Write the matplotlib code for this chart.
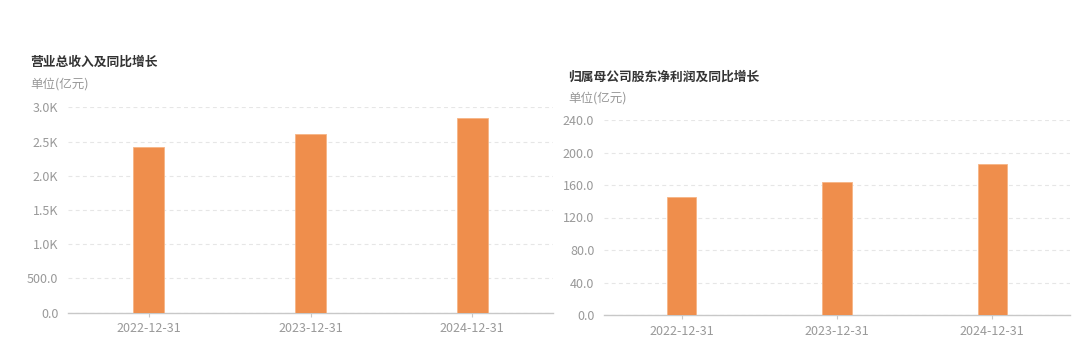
import matplotlib
matplotlib.use("Agg")
import matplotlib.pyplot as plt
from matplotlib.ticker import FuncFormatter

plt.rcParams['font.family'] = ['Noto Sans CJK SC', 'DejaVu Sans']

dates = ["2022-12-31", "2023-12-31", "2024-12-31"]
revenue = [2424, 2605, 2848]        # 营业总收入 (亿元)
net_profit = [145.6, 164.1, 185.8]  # 归母净利润 (亿元)

rev_ticks = [0, 500, 1000, 1500, 2000, 2500, 3000]
np_ticks = [0, 40, 80, 120, 160, 200, 240]

bar_color = "#EF8E4C"
grey_txt = "#999999"

def k_fmt(v, pos):
    if v >= 1000:
        return "%.1fK" % (v / 1000)
    return "%.1f" % v

fig = plt.figure(figsize=(10.8, 3.54), dpi=100)

def draw(ax, vals, ticks, fmt):
    x = range(len(dates))
    ax.bar(x, vals, width=0.19, color=bar_color, edgecolor="#F6B585", linewidth=0.6, zorder=3)
    ax.set_xlim(-0.5, len(dates) - 0.5)
    ax.set_ylim(ticks[0], ticks[-1])
    ax.set_yticks(ticks)
    ax.yaxis.set_major_formatter(FuncFormatter(fmt))
    ax.set_xticks(list(x))
    ax.set_xticklabels(dates)
    ax.grid(axis="y", color="#e6e6e6", linestyle=(0, (3.5, 3)), linewidth=0.8, zorder=0)
    for s in ["top", "right", "left"]:
        ax.spines[s].set_visible(False)
    ax.spines["bottom"].set_color("#c8c8c8")
    ax.spines["bottom"].set_linewidth(1.0)
    ax.tick_params(axis="y", length=0, pad=7, labelsize=9, labelcolor=grey_txt)
    ax.tick_params(axis="x", length=3, color="#c8c8c8", pad=4, labelsize=9, labelcolor=grey_txt)

ax1 = fig.add_axes([68 / 1080, 1 - 312.5 / 354, 485 / 1080, 205.2 / 354])
draw(ax1, revenue, rev_ticks, k_fmt)

ax2 = fig.add_axes([604 / 1080, 1 - 315 / 354, 466 / 1080, 195 / 354])
draw(ax2, net_profit, np_ticks, lambda v, p: "%.1f" % v)

fig.text(30 / 1080, 1 - 62 / 354, "营业总收入及同比增长", fontsize=9.2, fontweight="bold",
         color="#333333", va="center", ha="left")
fig.text(30 / 1080, 1 - 84 / 354, "单位(亿元)", fontsize=9, color=grey_txt, va="center", ha="left")
fig.text(568 / 1080, 1 - 77 / 354, "归属母公司股东净利润及同比增长", fontsize=9.2, fontweight="bold",
         color="#333333", va="center", ha="left")
fig.text(568 / 1080, 1 - 98 / 354, "单位(亿元)", fontsize=9, color=grey_txt, va="center", ha="left")

fig.savefig("out.png", dpi=100, facecolor="white")
